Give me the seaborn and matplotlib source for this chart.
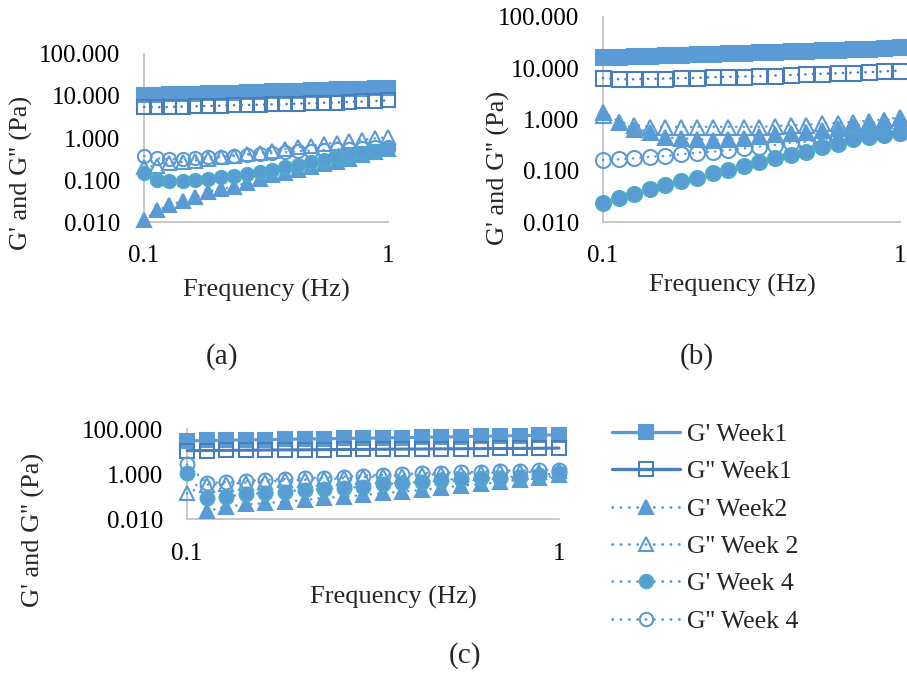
import numpy as np
import pandas as pd
import matplotlib
matplotlib.use("Agg")
import matplotlib.pyplot as plt
import seaborn as sns
from matplotlib.lines import Line2D
from matplotlib.ticker import FixedLocator, FixedFormatter, NullLocator

sns.set_theme(style="white")
plt.rcParams['font.family'] = ['Liberation Serif', 'DejaVu Serif']

# ---------------- data ----------------
freq = [0.1, 0.113, 0.127, 0.144, 0.162, 0.183, 0.207, 0.234, 0.264, 0.298,
        0.336, 0.379, 0.428, 0.483, 0.546, 0.616, 0.695, 0.785, 0.886, 1.0]

series_labels = ["G' Week1", "G'' Week1", "G' Week2", "G'' Week 2", "G' Week 4", "G'' Week 4"]

# panel (a)
a_gp1 = [10.5, 10.7, 10.9, 11.1, 11.3, 11.5, 11.8, 12.0, 12.3, 12.5,
         12.8, 13.1, 13.4, 13.7, 14.0, 14.3, 14.7, 15.0, 15.4, 15.8]
a_gpp1 = [5.5, 5.4, 5.5, 5.6, 5.7, 5.8, 5.9, 6.0, 6.1, 6.2,
          6.3, 6.4, 6.6, 6.7, 6.9, 7.0, 7.2, 7.4, 7.6, 7.9]
a_gp2 = [0.011, 0.019, 0.025, 0.032, 0.039, 0.053, 0.060, 0.069, 0.087, 0.104,
         0.13, 0.15, 0.17, 0.20, 0.235, 0.27, 0.32, 0.39, 0.47, 0.56]
a_gpp2 = [0.20, 0.22, 0.25, 0.27, 0.29, 0.32, 0.35, 0.38, 0.41, 0.45,
          0.50, 0.55, 0.60, 0.66, 0.72, 0.78, 0.84, 0.90, 0.98, 1.05]
a_gp4 = [0.145, 0.10, 0.095, 0.095, 0.10, 0.105, 0.115, 0.125, 0.14, 0.155,
         0.175, 0.20, 0.23, 0.265, 0.30, 0.35, 0.39, 0.44, 0.50, 0.55]
a_gpp4 = [0.37, 0.33, 0.31, 0.32, 0.33, 0.35, 0.36, 0.38, 0.40, 0.42,
          0.44, 0.46, 0.48, 0.50, 0.52, 0.54, 0.56, 0.58, 0.60, 0.62]

# panel (b)
b_gp1 = [16.5, 16.9, 17.3, 17.6, 18.0, 18.4, 18.8, 19.2, 19.6, 20.0,
         20.4, 20.9, 21.3, 21.8, 22.3, 22.8, 23.4, 24.0, 24.7, 25.5]
b_gpp1 = [6.4, 6.1, 6.1, 6.2, 6.3, 6.4, 6.5, 6.7, 6.8, 6.9,
          7.0, 7.2, 7.4, 7.6, 7.8, 8.0, 8.2, 8.4, 8.7, 9.0]
b_gp2 = [1.42, 0.91, 0.65, 0.58, 0.45, 0.43, 0.41, 0.40, 0.41, 0.43,
         0.48, 0.51, 0.54, 0.58, 0.62, 0.67, 0.75, 0.84, 0.98, 1.05]
b_gpp2 = [1.22, 0.90, 0.78, 0.72, 0.72, 0.72, 0.72, 0.72, 0.72, 0.72,
          0.72, 0.74, 0.78, 0.78, 0.84, 0.86, 0.90, 0.94, 1.00, 1.10]
b_gp4 = [0.023, 0.030, 0.036, 0.044, 0.053, 0.063, 0.073, 0.089, 0.103, 0.126,
         0.15, 0.175, 0.20, 0.235, 0.29, 0.34, 0.41, 0.45, 0.50, 0.54]
b_gpp4 = [0.162, 0.167, 0.175, 0.188, 0.194, 0.21, 0.225, 0.235, 0.254, 0.274,
          0.295, 0.317, 0.353, 0.369, 0.41, 0.45, 0.47, 0.50, 0.52, 0.55]

# panel (c)
c_gp1 = [30, 31, 32, 33, 34, 35, 36, 37, 38, 39,
         40, 41.5, 43, 44.5, 46, 47.5, 49, 51, 53, 56]
c_gpp1 = [11.0, 11.1, 11.3, 11.5, 11.7, 11.9, 12.0, 12.2, 12.4, 12.5,
          12.7, 12.9, 13.0, 13.2, 13.4, 13.5, 13.7, 13.8, 14.0, 14.3]
c_gp2 = [np.nan, 0.023, 0.036, 0.046, 0.051, 0.060, 0.072, 0.091, 0.10, 0.12,
         0.143, 0.17, 0.20, 0.25, 0.31, 0.36, 0.44, 0.56, 0.66, 0.93]
c_gpp2 = [0.143, 0.34, 0.37, 0.42, 0.47, 0.53, 0.56, 0.60, 0.66, 0.74,
          0.79, 0.85, 0.93, 0.99, 1.04, 1.11, 1.19, 1.22, 1.28, 1.32]
c_gp4 = [1.1, 0.086, 0.10, 0.13, 0.143, 0.17, 0.20, 0.22, 0.25, 0.28,
         0.36, 0.40, 0.47, 0.56, 0.62, 0.66, 0.71, 0.78, 0.93, 1.1]
c_gpp4 = [2.7, 0.40, 0.44, 0.50, 0.56, 0.62, 0.66, 0.71, 0.78, 0.87,
          0.93, 1.0, 1.1, 1.17, 1.22, 1.31, 1.4, 1.44, 1.5, 1.55]

x_ticks = [0.1, 1]
x_ticklabels = ["0.1", "1"]
y_ticks_ab = [0.01, 0.1, 1, 10, 100]
y_ticks_c = [0.01, 1, 100]
panel_letters = ["(a)", "(b)", "(c)"]
x_title = "Frequency (Hz)"
y_title = "G' and G'' (Pa)"

# ---------------- styles ----------------
BLUE = '#5B9BD5'
DARK = '#4A7EBB'
TEAL = '#4BACC6'
AXC = '#BFBFBF'
DOT = (0, (0.1, 2.9))

styles = [
    dict(marker='s', color=BLUE, mfc=BLUE, mec=BLUE),
    dict(marker='s', color=DARK, mfc='none', mec=DARK),
    dict(marker='^', color=BLUE, mfc=BLUE, mec=BLUE),
    dict(marker='^', color=BLUE, mfc='none', mec=BLUE),
    dict(marker='o', color=BLUE, mfc=BLUE, mec=TEAL),
    dict(marker='o', color=BLUE, mfc='none', mec=BLUE),
]

fig = plt.figure(figsize=(9.07, 6.74), dpi=100)


def draw(ax, data, ms, week1_solid):
    for i, vals in enumerate(data):
        st = styles[i]
        if i < 2 and week1_solid:
            ls, lw = '-', 2.2
        else:
            ls, lw = DOT, 1.8
        df = pd.DataFrame({'f': freq, 'v': vals}).dropna()
        sns.lineplot(data=df, x='f', y='v', ax=ax, color=st['color'],
                     marker=st['marker'], markersize=ms,
                     markerfacecolor=st['mfc'], markeredgecolor=st['mec'],
                     markeredgewidth=1.5, linestyle=ls, linewidth=lw,
                     dash_capstyle='round', clip_on=False,
                     estimator=None, sort=False, legend=False, zorder=3 + i)


def fmt(ax, yticks, tick_fs, xpad, ypad):
    ax.set_xscale('log')
    ax.set_yscale('log')
    ax.set_xlim(0.1, 1)
    ax.set_ylim(0.01, 100)
    ax.xaxis.set_major_locator(FixedLocator(x_ticks))
    ax.xaxis.set_major_formatter(FixedFormatter(x_ticklabels))
    ax.xaxis.set_minor_locator(NullLocator())
    ax.yaxis.set_major_locator(FixedLocator(yticks))
    ax.yaxis.set_major_formatter(FixedFormatter([f"{v:.3f}" for v in yticks]))
    ax.yaxis.set_minor_locator(NullLocator())
    ax.tick_params(axis='both', length=0, labelsize=tick_fs, colors='black')
    ax.tick_params(axis='x', pad=xpad)
    ax.tick_params(axis='y', pad=ypad)
    ax.grid(False)
    for s in ['top', 'right']:
        ax.spines[s].set_visible(False)
    for s in ['left', 'bottom']:
        ax.spines[s].set_color(AXC)
        ax.spines[s].set_linewidth(1.2)
    ax.set_facecolor('none')


LAB_FS = 19
TICK_FS = 18

# panel a
ax_a = fig.add_axes([0.1588, 0.6706, 0.2690, 0.2493])
draw(ax_a, [a_gp1, a_gpp1, a_gp2, a_gpp2, a_gp4, a_gpp4], 9.5, False)
fmt(ax_a, y_ticks_ab, TICK_FS, 16.5, 17)
ax_a.set_xlabel(x_title, fontsize=LAB_FS)
ax_a.set_ylabel(y_title, fontsize=LAB_FS)
ax_a.xaxis.set_label_coords(0.503, -0.34)
ax_a.yaxis.set_label_coords(-0.455, 0.295)

# panel b
ax_b = fig.add_axes([0.6648, 0.6706, 0.3275, 0.3042])
draw(ax_b, [b_gp1, b_gpp1, b_gp2, b_gpp2, b_gp4, b_gpp4], 10.8, False)
fmt(ax_b, y_ticks_ab, TICK_FS, 16.5, 17)
ax_b.set_xlabel(x_title, fontsize=LAB_FS)
ax_b.set_ylabel(y_title, fontsize=LAB_FS)
ax_b.xaxis.set_label_coords(0.437, -0.254)
ax_b.yaxis.set_label_coords(-0.313, 0.262)

# panel c
ax_c = fig.add_axes([0.2062, 0.2295, 0.4101, 0.1340])
draw(ax_c, [c_gp1, c_gpp1, c_gp2, c_gpp2, c_gp4, c_gpp4], 10, True)
fmt(ax_c, y_ticks_c, TICK_FS, 17, 17)
ax_c.set_xlabel(x_title, fontsize=LAB_FS)
ax_c.set_ylabel(y_title, fontsize=LAB_FS)
ax_c.xaxis.set_label_coords(0.554, -0.74)
ax_c.yaxis.set_label_coords(-0.382, -0.118)

# panel letters
fig.text(222 / 907, 1 - 357 / 674, panel_letters[0], fontsize=21, ha='center', va='center')
fig.text(697 / 907, 1 - 357 / 674, panel_letters[1], fontsize=21, ha='center', va='center')
fig.text(465 / 907, 1 - 656 / 674, panel_letters[2], fontsize=21, ha='center', va='center')

# legend
handles = []
for i, lab in enumerate(series_labels):
    st = styles[i]
    if i < 2:
        ls, lw = '-', 2.4
    else:
        ls, lw = DOT, 2.0
    handles.append(Line2D([], [], color=st['color'], marker=st['marker'], markersize=9.6,
                          markerfacecolor=st['mfc'], markeredgecolor=st['mec'],
                          markeredgewidth=1.5, linestyle=ls, linewidth=lw,
                          dash_capstyle='round', solid_capstyle='round'))
fig.legend(handles, series_labels, loc='upper left',
           bbox_to_anchor=(611.7 / 907, 1 - 423 / 674), frameon=False,
           fontsize=18.5, handlelength=2.65, handletextpad=0.3,
           labelspacing=0.56, borderpad=0, borderaxespad=0)

fig.savefig('out.png', dpi=100)
